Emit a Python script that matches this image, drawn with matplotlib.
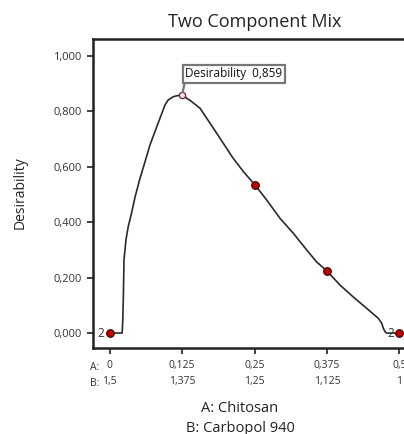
import numpy as np
import matplotlib
matplotlib.use("Agg")
import matplotlib.pyplot as plt

plt.rcParams['font.family'] = ['Open Sans', 'DejaVu Sans']

# desirability curve (A: Chitosan)
curve_x = [0, 0.0215, 0.0225, 0.0235, 0.0247, 0.0281, 0.032, 0.038, 0.0437, 0.0523,
           0.061, 0.0696, 0.0782, 0.0868, 0.0955, 0.101, 0.11, 0.118, 0.125,
           0.1416, 0.156, 0.1675, 0.179, 0.196, 0.213, 0.231, 0.251, 0.271,
           0.294, 0.317, 0.340, 0.357, 0.375, 0.3976, 0.42, 0.4437, 0.4637,
           0.4696, 0.4724, 0.4753, 0.478, 0.5]
curve_y = [0, 0, 0.04, 0.119, 0.264, 0.336, 0.384, 0.435, 0.49, 0.558,
           0.618, 0.679, 0.727, 0.775, 0.823, 0.841, 0.853, 0.857, 0.859,
           0.835, 0.811, 0.775, 0.739, 0.685, 0.631, 0.582, 0.534, 0.480,
           0.414, 0.36, 0.300, 0.257, 0.224, 0.173, 0.131, 0.089, 0.053,
           0.035, 0.017, 0.005, 0, 0]

# design points
pts_x = [0, 0.25, 0.375, 0.5]
pts_y = [0, 0.535, 0.224, 0]
rep_x = [0, 0.5]
rep_y = [0, 0]
rep_n = ["2", "2"]

opt_x = 0.125
opt_y = 0.859

xticks = [0, 0.125, 0.25, 0.375, 0.5]
xlab_a = ["0", "0,125", "0,25", "0,375", "0,5"]
xlab_b = ["1,5", "1,375", "1,25", "1,125", "1"]
yticks = [0, 0.2, 0.4, 0.6, 0.8, 1.0]
ylabels = ["0,000", "0,200", "0,400", "0,600", "0,800", "1,000"]

W, H = 404, 434
fig = plt.figure(figsize=(W / 100, H / 100), dpi=100)
ax = fig.add_axes([92.7 / W, 1 - 348 / H, (415 - 92.7) / W, (348 - 39) / H])

ax.plot(curve_x, curve_y, color='#2a2a2a', lw=1.2, zorder=2,
        solid_joinstyle='round')
ax.plot(pts_x, pts_y, 'o', ms=5.5, mfc='#c00000', mec='#3a0000', mew=0.8,
        zorder=3, clip_on=False)
ax.plot([opt_x], [opt_y], 'o', ms=4.5, mfc='#f4e8ec', mec='#6a2030', mew=0.9,
        zorder=3)
for x, y, n in zip(rep_x, rep_y, rep_n):
    ax.annotate(n, (x, y), xytext=(-4, 0), textcoords='offset points',
                ha='right', va='center', fontsize=8.5, color='#333333')

ax.annotate("Desirability  0,859", (opt_x, opt_y), xytext=(2.2, 10.5),
            textcoords='offset points', ha='left', va='bottom', fontsize=8.5,
            color='#111111',
            bbox=dict(boxstyle='square,pad=0.22', fc='white', ec='#777777', lw=1.6),
            arrowprops=dict(arrowstyle='-', color='#777777', lw=1.6,
                            relpos=(0, 0), shrinkA=0, shrinkB=2))

ax.set_xlim(-0.0293, 0.527)
ax.set_ylim(-0.054, 1.061)

ax.set_yticks(yticks)
ax.set_yticklabels(ylabels, fontsize=8, color='#333333')
ax.set_xticks(xticks)
ax.set_xticklabels([a + "\n" + b for a, b in zip(xlab_a, xlab_b)],
                   fontsize=7.5, color='#333333', linespacing=1.65)
ax.tick_params(axis='both', direction='out', length=4, width=1.3, color='#333333')
ax.tick_params(axis='y', pad=4)
ax.tick_params(axis='x', pad=4.5)

for s in ax.spines.values():
    s.set_linewidth(1.8)
    s.set_color('#222222')

fig.text(95 / W, 1 - 367 / H, "A:", fontsize=7.5, color='#333333', ha='center', va='center')
fig.text(95 / W, 1 - 383 / H, "B:", fontsize=7.5, color='#333333', ha='center', va='center')

fig.text(255 / W, 1 - 22 / H, "Two Component Mix", fontsize=13, color='#222222',
         ha='center', va='center')
fig.text(20 / W, 1 - 193 / H, "Desirability", fontsize=10, color='#222222',
         ha='center', va='center', rotation=90)
fig.text(240 / W, 1 - 409 / H, "A: Chitosan", fontsize=10.5, color='#222222',
         ha='center', va='center')
fig.text(240 / W, 1 - 428 / H, "B: Carbopol 940", fontsize=10.5, color='#222222',
         ha='center', va='center')

fig.savefig("out.png", dpi=100)
